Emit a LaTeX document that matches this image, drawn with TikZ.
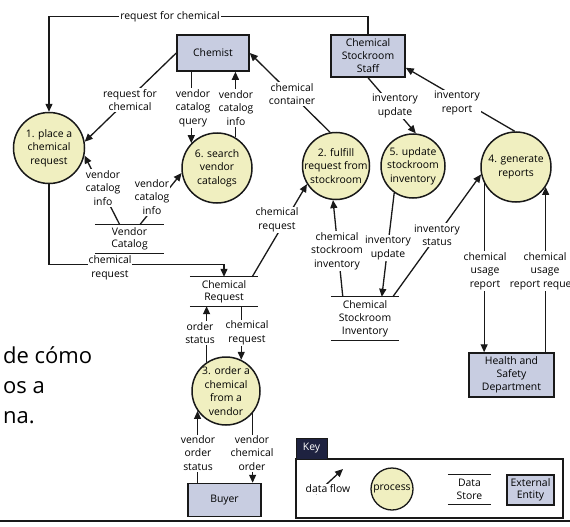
\documentclass[tikz,border=0pt]{standalone}
\usepackage{fontspec}
\setmainfont{Open Sans}
\usetikzlibrary{arrows.meta,calc}
\definecolor{procfill}{RGB}{240,239,192}
\definecolor{extfill}{RGB}{200,205,225}
\definecolor{linec}{RGB}{25,25,25}
\definecolor{keytab}{RGB}{30,34,64}
\begin{document}
\begin{tikzpicture}[x=1pt,y=-1pt,
  font=\fontsize{10.4}{13.5}\selectfont,
  flow/.style={draw=linec, line width=1.3pt, -{Triangle[length=8pt,width=7pt]}},
  plain/.style={draw=linec, line width=1.3pt},
  proc/.style={circle, draw=linec, line width=1.5pt, fill=procfill, inner sep=0pt},
  ptext/.style={align=center, inner sep=0pt},
  ext/.style={rectangle, draw=linec, line width=1.5pt, fill=extfill, align=center, inner sep=0pt},
  store/.style={align=center, inner sep=0pt},
  lab/.style={fill=white, align=center, inner sep=1pt},
  big/.style={anchor=base west, inner sep=0pt, text=black, font=\fontsize{22}{30}\selectfont},
]
\fill[white] (0,0) rectangle (570,527);
\clip (0,0) rectangle (570,527);

% background slide text
\node[big] (big1) at (3,363) {de cómo};
\node[big] (big2) at (3,393) {os a};
\node[big] (big3) at (3,423) {na.};

% processes
\node[proc, minimum size=71pt] (c1) at (49,148) {};
\node[ptext] (t1) at (c1) {1. place a\\chemical\\request};
\node[proc, minimum size=70pt] (c6) at (217,168) {};
\node[ptext] (t6) at (c6) {6. search\\vendor\\catalogs};
\node[proc, minimum size=67pt] (c2) at (336,166) {};
\node[ptext] (t2) at (c2) {2. fulfill\\request from\\stockroom};
\node[proc, minimum size=64pt] (c5) at (413,166) {};
\node[ptext] (t5) at (c5) {5. update\\stockroom\\inventory};
\node[proc, minimum size=70pt] (c4) at (516,167) {};
\node[ptext] (t4) at (c4) {4. generate\\reports};
\node[proc, minimum size=68pt] (c3) at (226,391) {};
\node[ptext] (t3) at (c3) {3. order a\\chemical\\from a\\vendor};

% external entities
\node[ext, minimum width=72pt, minimum height=36pt] (chem) at (213,53) {Chemist};
\node[ext, minimum width=74pt, minimum height=42pt, font=\fontsize{10.4}{13}\selectfont] (staff) at (368,56) {Chemical\\Stockroom\\Staff};
\node[ext, minimum width=85pt, minimum height=44pt, font=\fontsize{10.4}{13}\selectfont] (hsd) at (511.5,375) {Health and\\Safety\\Department};
\node[ext, minimum width=73pt, minimum height=33pt] (buyer) at (224.5,500) {Buyer};

% data stores
\node[store, minimum width=69pt, minimum height=28pt, font=\fontsize{10.4}{12}\selectfont] (vc) at (129.5,239) {Vendor\\Catalog};
\draw[plain] (vc.north west) -- (vc.north east) (vc.south west) -- (vc.south east);
\node[store, minimum width=68pt, minimum height=29pt, font=\fontsize{10.4}{12}\selectfont] (cr) at (224,291.5) {Chemical\\Request};
\draw[plain] (cr.north west) -- (cr.north east) (cr.south west) -- (cr.south east);
\node[store, minimum width=68pt, minimum height=43pt, font=\fontsize{10.4}{13}\selectfont] (csi) at (365,318.5) {Chemical\\Stockroom\\Inventory};
\draw[plain] (csi.north west) -- (csi.north east) (csi.south west) -- (csi.south east);

% flows
\draw[flow] (staff.north) -- ($(staff.north)+(0,-18)$) -| (c1.north);
\node[lab] (lA) at (170,17) {request for chemical};

\draw[flow] (chem.west) -- (c1.10);
\node[lab] (lB) at (130,100) {request for\\chemical};

\draw[flow] (c6.136 |- chem.south) -- (c6.136);
\node[lab] (lC) at (193,108) {vendor\\catalog\\query};

\draw[flow] (c6.59) -- (c6.59 |- chem.south);
\node[lab] (lD) at (236,108) {vendor\\catalog\\info};

\draw[flow] (c2.100) -- (chem.east);
\node[lab] (lE) at (292,94) {chemical\\container};

\draw[flow] ($(vc.north west)+(25,0)$) -- (c1.-12);
\node[lab] (lF) at (103,188) {vendor\\catalog\\info};

\draw[flow] ($(vc.north west)+(45,0)$) -- (c6.188);
\node[lab] (lG) at (152,197) {vendor\\catalog\\info};

\draw[flow] (c1.south) |- ($(cr.north)+(0,-12)$) -- (cr.north);
\node[lab] (lH) at (110,268) {chemical\\request};

\draw[flow] ($(cr.north east)+(-6,0)$) -- (c2.212);
\node[lab] (lI) at (277,220) {chemical\\request};

\draw[flow] ($(csi.north west)+(12,0)$) -- (c2.265);
\node[lab] (lJ) at (337,251) {chemical\\stockroom\\inventory};

\draw[flow] (c5.235) -- ($(csi.north west)+(51,0)$);
\node[lab] (lK) at (388,248) {inventory\\update};

\draw[flow] ($(csi.north west)+(62,0)$) -- (c4.192);
\node[lab] (lL) at (437,235) {inventory\\status};

\draw[flow] (staff.south) -- (c5.85);
\node[lab] (lM) at (395,106) {inventory\\update};

\draw[flow] (c4.92) -- ($(staff.south east)+(0,-10)$);
\node[lab] (lN) at (457,103) {inventory\\report};

\draw[flow] (c4.207) -- (c4.207 |- hsd.north);
\node[lab] (lO) at (485,271) {chemical\\usage\\report};

\draw[flow] (c4.-34 |- hsd.north) -- (c4.-34);
\node[lab] (lP) at (545,271) {chemical\\usage\\report request};

\draw[flow] (c3.64 |- cr.south) -- (c3.64);
\node[lab] (lQ) at (247,333) {chemical\\request};

\draw[flow] (c3.124) -- (c3.124 |- cr.south);
\node[lab] (lR) at (200,333) {order\\status};

\draw[flow] (c3.215 |- buyer.north) -- (c3.215);
\node[lab] (lS) at (198,453) {vendor\\order\\status};

\draw[flow] (c3.-40) -- (c3.-40 |- buyer.north);
\node[lab] (lT) at (252,453) {vendor\\chemical\\order};

% key
\node[draw=linec, line width=1.3pt, minimum width=267pt, minimum height=59pt, inner sep=0pt] (keybox) at (429.5,488.5) {};
\node[fill=keytab, draw=linec, line width=1pt, text=white, minimum width=31pt, minimum height=21pt, inner sep=0pt] (keytab) at (311.5,448.5) {Key};
\coordinate (dfa) at (316,494);
\coordinate (dfb) at (343,469);
\draw[flow] (dfa) -- (dfb);
\node[lab] (dfl) at (328,489) {data flow};
\node[proc, minimum size=42pt, line width=1.3pt] (kp) at (392,489) {};
\node[ptext] (kpt) at (kp) {process};
\node[store, minimum width=43pt, minimum height=29pt, font=\fontsize{10.4}{12.5}\selectfont] (kds) at (469.5,489.5) {Data\\Store};
\draw[plain] (kds.north west) -- (kds.north east) (kds.south west) -- (kds.south east);
\node[ext, minimum width=47pt, minimum height=30pt, font=\fontsize{10.4}{12.5}\selectfont] (kee) at (530.5,490) {External\\Entity};

% bottom rule
\draw[draw=linec, line width=2pt] (0,521) -- (570,521);
\end{tikzpicture}
\end{document}
